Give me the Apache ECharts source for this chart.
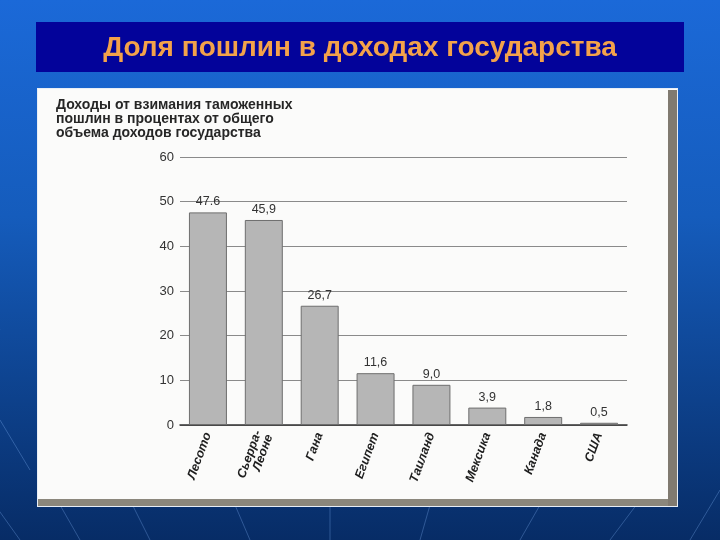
<!DOCTYPE html>
<html>
<head>
<meta charset="utf-8">
<script src="https://cdn.jsdelivr.net/npm/echarts@6/dist/echarts.min.js"></script>
<style>html,body{margin:0;padding:0;}#c{width:720px;height:540px;}</style>
</head>
<body>
<div id="c"></div>
<script>
var slideTitle = 'Доля пошлин в доходах государства';
var chartTitle = 'Доходы от взимания таможенных\nпошлин в процентах от общего\nобъема доходов государства';
var categories = ['Лесото', 'Сьерра-\nЛеоне', 'Гана', 'Египет', 'Таиланд', 'Мексика', 'Канада', 'США'];
var values = [47.6, 45.9, 26.7, 11.6, 9.0, 3.9, 1.8, 0.5];
var valueLabels = ['47.6', '45,9', '26,7', '11,6', '9,0', '3,9', '1,8', '0,5'];

var chart = echarts.init(document.getElementById('c'), null, {renderer: 'canvas'});
var bgLines = [];
var lineSpecs = [[20,540,-30,470],[80,540,40,470],[150,540,120,480],[250,540,235,505],[330,540,330,505],[420,540,430,505],[520,540,540,505],[610,540,640,500],[690,540,720,490],[0,330,-20,300],[0,420,30,470]];
lineSpecs.forEach(function(s){
  bgLines.push({type:'line', z:-9, shape:{x1:s[0],y1:s[1],x2:s[2],y2:s[3]}, style:{stroke:'rgba(140,190,255,0.3)', lineWidth:1}});
});
var option = {
  animation: false,
  graphic: [
    {type:'rect', z:-10, shape:{x:0,y:0,width:720,height:540},
     style:{fill:new echarts.graphic.LinearGradient(0,0,0,1,[{offset:0,color:'#1b69d8'},{offset:0.4,color:'#155cbc'},{offset:1,color:'#072c66'}])}}
  ].concat(bgLines).concat([
    {type:'rect', z:-8, shape:{x:36,y:22,width:648,height:50}, style:{fill:'#03039a'}},
    {type:'text', z:-7, style:{x:360,y:48,text:slideTitle,fill:'#f3a24a',font:'bold 28px "Liberation Sans", Arial, sans-serif',textAlign:'center',textVerticalAlign:'middle'}},
    {type:'rect', z:-8, shape:{x:37,y:88,width:641,height:419}, style:{fill:'#e8eef6'}},
    {type:'rect', z:-8, shape:{x:38,y:89,width:639,height:417}, style:{fill:'#fbfbfa'}},
    {type:'rect', z:-7, shape:{x:38,y:499,width:639,height:7}, style:{fill:'#8b877c'}},
    {type:'rect', z:-7, shape:{x:668,y:90,width:9,height:416}, style:{fill:'#807a70'}},
    {type:'text', z:-6, style:{x:56,y:98,text:chartTitle,fill:'#262626',font:'bold 14px "Liberation Sans", Arial, sans-serif',lineHeight:14,textAlign:'left',textVerticalAlign:'top'}}
  ]),
  grid: {left: 180, top: 157, width: 447, height: 268, containLabel: false},
  xAxis: {
    type: 'category', data: categories,
    axisLine: {show:true, lineStyle:{color:'#333', width:1.5}},
    axisTick: {show:false},
    axisLabel: {rotate:70, margin:8, interval:0, color:'#1e1e1e', fontFamily:'"Liberation Sans", Arial, sans-serif', fontStyle:'italic', fontWeight:'bold', fontSize:12.5, lineHeight:12}
  },
  yAxis: {
    type: 'value', min:0, max:60, interval:10,
    axisLine:{show:false}, axisTick:{show:false},
    axisLabel:{color:'#333', fontSize:13, margin:6, fontFamily:'"Liberation Sans", Arial, sans-serif'},
    splitLine:{lineStyle:{color:'#8a8a8a', width:1}}
  },
  series: [{
    type: 'bar', data: values, barWidth: '68%',
    itemStyle: {color:'#b6b6b6', borderColor:'#6e6e6e', borderWidth:1},
    label: {show:true, position:'top', distance:4, color:'#333', fontSize:12.5, fontFamily:'"Liberation Sans", Arial, sans-serif',
      formatter: function(p){ return valueLabels[p.dataIndex]; }}
  }]
};
chart.setOption(option);
</script>
</body>
</html>
